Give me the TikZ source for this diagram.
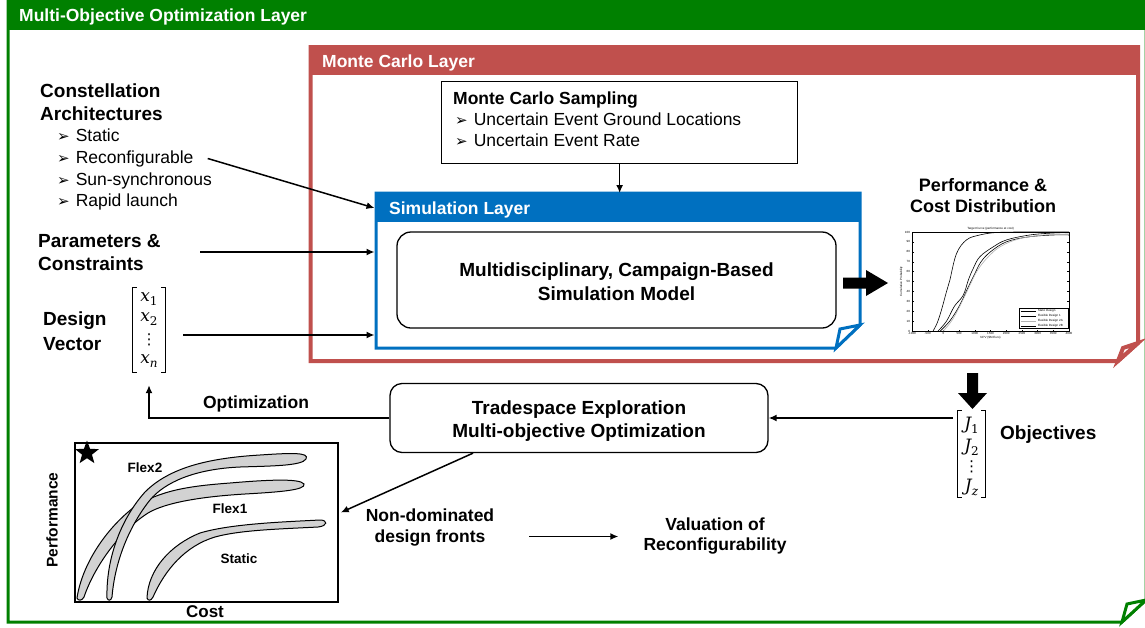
\documentclass[tikz,border=0pt]{standalone}
\usepackage{fontspec}
\setmainfont{Liberation Sans}
\newfontfamily\dejavu{DejaVu Sans}
\newfontfamily\vfont{DejaVu Serif}
\usetikzlibrary{arrows.meta,calc,shapes.geometric}
\definecolor{mgreen}{RGB}{0,128,0}
\definecolor{mred}{RGB}{192,80,77}
\definecolor{mblue}{RGB}{0,112,192}
\newcommand{\bul}{{\dejavu\fontsize{15}{15}\selectfont ➢}\hspace{6pt}}
\newcommand{\fs}[2]{\fontsize{#1}{#2}\selectfont}
\newcommand{\vsub}[2]{{\itshape #1}\raisebox{-4pt}{\fs{12}{12}#2}}
\begin{document}
\begin{tikzpicture}[x=1pt,y=-1pt,
  every node/.style={inner sep=0pt},
  hdr/.style={font=\bfseries\fs{17.5}{21}, text=white, anchor=base west},
  headt/.style={font=\bfseries\fs{19}{23}, anchor=base west},
  bodyt/.style={font=\fs{17.5}{21}, anchor=base west},
  boldt/.style={font=\bfseries\fs{17.5}{21}},
  bigt/.style={font=\bfseries\fs{19}{24}, align=center},
  arr/.style={-{Latex[length=8pt,width=7pt]}, line width=1.5pt},
  blob/.style={fill=gray!35, draw=black, line width=1pt},
  tinyf/.style={font=\fs{3}{3.5}},
  chartl/.style={font=\bfseries\fs{13.5}{16}, anchor=base},
  vent/.style={font=\vfont\fs{17}{19}},
  vdot/.style={font=\dejavu\fs{15}{15}},
  brk/.style={line width=1pt, line join=miter},
]
\useasboundingbox (0,0) rectangle (1145,627);
\fill[white] (0,0) rectangle (1145,627);

% ---------- green layer ----------
\fill[mgreen] (6.5,0) rectangle (1145,30);
\draw[mgreen, line width=3pt, line join=miter] (8,0) -- (8,622) -- (1122,622) -- (1146,600) -- (1146,0);
\draw[mgreen, line width=3pt, line join=miter, fill=white] (1146,600) -- (1127,604) -- (1122,622) -- cycle;
\node[hdr] (tgreen) at (19,21) {Multi-Objective Optimization Layer};

% ---------- red layer ----------
\draw[mred, line width=4pt, line join=miter] (310.5,47) -- (1138,47) -- (1138,343) -- (1118,361) -- (310.5,361) -- cycle;
\fill[mred] (310.5,47) rectangle (1138,75);
\draw[mred, line width=4pt, line join=miter, fill=white] (1138,343) -- (1123,348) -- (1118,361) -- cycle;
\node[hdr] (tred) at (322,67) {Monte Carlo Layer};

% ---------- blue layer ----------
\draw[mblue, line width=3pt, line join=miter] (376,193) -- (860,193) -- (860,325) -- (836,348) -- (376,348) -- cycle;
\fill[mblue] (376,193) rectangle (860,222);
\draw[mblue, line width=3pt, line join=miter, fill=white] (860,325) -- (840,329) -- (836,348) -- cycle;
\node[hdr] (tblue) at (389,214) {Simulation Layer};
\node[minimum width=484pt, minimum height=155pt, anchor=north west] (simlayer) at (376,193) {};

% ---------- Monte Carlo sampling ----------
\node[draw, line width=1.3pt, minimum width=356pt, minimum height=82pt, anchor=north west] (mcs) at (441,81) {};
\node[boldt, anchor=base west] (mcst) at (453,104) {Monte Carlo Sampling};
\node[bodyt] (mc1) at (455,125) {\bul Uncertain Event Ground Locations};
\node[bodyt] (mc2) at (455,146) {\bul Uncertain Event Rate};

% ---------- simulation model ----------
\node[draw, rounded corners=14pt, line width=1.3pt, minimum width=439pt, minimum height=96pt] (simbox) at (616.5,280) {};
\node[bigt] (simtxt) at (616.5,282) {Multidisciplinary, Campaign-Based\\Simulation Model};

% thick right arrow
\fill[black] (843,277.5) -- (866,277.5) -- (866,270) -- (888,283) -- (866,296) -- (866,288.5) -- (843,288.5) -- cycle;

% ---------- performance & cost distribution ----------
\node[font=\bfseries\fs{18}{21}, align=center] (perft) at (983,195.5) {Performance \&\\Cost Distribution};
\begin{scope}[shift={(943.4,331)}, x=0.0314pt, y=0.99pt, line width=0.35pt]
  \draw[line width=0.5pt] (-1000,0) rectangle (4000,100);
  \foreach \v [count=\i] in {0,10,...,100} {
    \draw (-1000,\v) -- ++(50,0);
    \draw (4000,\v) -- ++(-50,0);
    \node[tinyf, anchor=east] (ty\i) at (-1060,\v) {\v};
  }
  \foreach \u [count=\i] in {-1000,-500,0,500,1000,1500,2000,2500,3000,3500,4000} {
    \draw (\u,0) -- ++(0,1.5);
    \draw (\u,100) -- ++(0,-1.5);
    \node[tinyf, anchor=north] (tx\i) at (\u,-1.5) {\u};
  }
  \draw[line width=0.6pt] plot[smooth, tension=0.6] coordinates {(-330,0) (-200,8) (-64,21) (100,40) (202,51) (415,78) (734,92) (1160,97) (1690,99.5) (2500,100) (4000,100)};
  \draw[line width=0.6pt] plot[smooth, tension=0.6] coordinates {(-170,0) (100,10) (350,25) (628,36) (800,52) (947,63) (1160,75) (1585,85) (2011,92) (2755,97) (3500,99) (4000,99.5)};
  \draw[line width=0.6pt] plot[smooth, tension=0.6] coordinates {(-100,0) (200,10) (500,25) (800,45) (1000,58) (1200,70) (1500,80) (2000,90) (2700,95) (3500,97) (4000,97)};
  \draw[gray!60, line width=0.6pt] plot[smooth, tension=0.6] coordinates {(0,0) (300,12) (600,30) (900,50) (1100,62) (1400,74) (1800,85) (2400,93) (3200,97) (4000,98)};
  \draw[fill=white, line width=0.4pt] (2408,3) rectangle (3968,23);
  \foreach \yy/\lab/\col [count=\i] in {20/Static Design/black, 15/Flexible Design 1/black, 10/Flexible Design 2A/gray!60, 5/Flexible Design 2B/black} {
    \draw[\col, line width=0.5pt] (2470,\yy) -- (2950,\yy);
    \node[tinyf, anchor=west] (lg\i) at (3000,\yy) {\lab};
  }
  \node[tinyf, anchor=south] (ptitle) at (1500,101.5) {Target Curve (performance at cost)};
  \node[tinyf, rotate=90, anchor=south] (pyl) at (-1290,50) {Cumulative Probability};
  \node[tinyf, anchor=north] (pxl) at (1500,-5) {NPV (\$M Euro)};
\end{scope}

% thick down arrow
\fill[black] (967,373) -- (978,373) -- (978,393) -- (987,393) -- (972.5,409) -- (958,393) -- (967,393) -- cycle;

% objectives vector
\node[minimum width=27pt, minimum height=86pt] (jvec) at (971.5,454) {};
\draw[brk] ([xshift=4pt]jvec.north west) -- (jvec.north west) -- (jvec.south west) -- ++(4,0);
\draw[brk] ([xshift=-4pt]jvec.north east) -- (jvec.north east) -- (jvec.south east) -- ++(-4,0);
\node[vent] (j1) at (971.5,425) {\vsub{J}{1}};
\node[vent] (j2) at (971.5,447) {\vsub{J}{2}};
\node[vdot] (j3) at (971.5,467) {⋮};
\node[vent] (j4) at (971.5,487) {\vsub{J}{\itshape z}};
\node[headt] (obj) at (1000,439) {Objectives};

% tradespace
\node[draw, rounded corners=12pt, line width=1.3pt, minimum width=378pt, minimum height=69pt] (trade) at (579,418) {};
\node[bigt, font=\bfseries\fs{19}{23}] (tradetxt) at (579,421.5) {Tradespace Exploration\\Multi-objective Optimization};
\node[boldt, anchor=base] (optl) at (256,408) {Optimization};

% ---------- left inputs ----------
\node[headt] (ca1) at (40,97) {Constellation};
\node[headt] (ca2) at (40,120) {Architectures};
\node[bodyt] (b1) at (57,141) {\bul Static};
\node[bodyt] (rec) at (57,163) {\bul Reconfigurable};
\node[bodyt] (b3) at (57,185) {\bul Sun-synchronous};
\node[bodyt] (b4) at (57,206) {\bul Rapid launch};
\node[headt] (pc1) at (38,247) {Parameters \&};
\node[headt] (pc2) at (38,270) {Constraints};
\node[headt] (dv1) at (43,325) {Design};
\node[headt] (dv2) at (43,350) {Vector};
\node[minimum width=32pt, minimum height=84pt] (xvec) at (149,330) {};
\draw[brk] ([xshift=4pt]xvec.north west) -- (xvec.north west) -- (xvec.south west) -- ++(4,0);
\draw[brk] ([xshift=-4pt]xvec.north east) -- (xvec.north east) -- (xvec.south east) -- ++(-4,0);
\node[vent] (x1) at (149,299) {\vsub{x}{1}};
\node[vent] (x2) at (149,319) {\vsub{x}{2}};
\node[vdot] (x3) at (149,340) {⋮};
\node[vent] (x4) at (149,361) {\vsub{x}{\itshape n}};

% ---------- connectors ----------
\coordinate (sl1) at (374.5,208);
\coordinate (sl2) at (374.5,252);
\coordinate (sl3) at (374.5,335);
\coordinate (pcs) at (200,252);
\coordinate (dvs) at (183,335);
\draw[arr] ([xshift=14pt]rec.east) -- (sl1);
\draw[arr] (pcs) -- (sl2);
\draw[arr] (dvs) -- (sl3);
\draw[arr] (mcs.south) -- (mcs.south |- simlayer.north);
\draw[arr] ([xshift=-5pt]jvec.west |- trade.east) -- (trade.east);
\draw[arr] (trade.west) -| ([yshift=-13pt]xvec.south);

% ---------- chart ----------
\draw[blob] (77,598) .. controls (82,565) and (105,530) .. (133,508) .. controls (160,490) and (190,486) .. (230,483) .. controls (265,480) and (300,478) .. (304,484) .. controls (306,490) and (280,492) .. (245,494) .. controls (195,497) and (160,504) .. (145,515) .. controls (120,532) and (95,565) .. (84,597) .. controls (82,601) and (78,601) .. (77,598) -- cycle;
\draw[blob] (107,598) .. controls (106,560) and (120,520) .. (145,492) .. controls (170,467) and (210,458) .. (260,455) .. controls (290,453) and (310,452) .. (306,459) .. controls (302,466) and (270,466) .. (240,467) .. controls (195,469) and (165,482) .. (150,500) .. controls (130,525) and (115,560) .. (112,597) .. controls (111,601) and (108,601) .. (107,598) -- cycle;
\draw[blob] (147,598) .. controls (148,570) and (170,545) .. (200,533) .. controls (230,524) and (280,522) .. (320,520) .. controls (328,520) and (328,526) .. (318,527) .. controls (280,529) and (240,530) .. (215,537) .. controls (185,546) and (165,570) .. (153,597) .. controls (151,601) and (148,601) .. (147,598) -- cycle;
\node[draw, line width=1.5pt, minimum width=263pt, minimum height=159pt] (chart) at (206.5,522.5) {};
\node[star, star points=5, star point ratio=2.4, fill=black, minimum size=25pt] (star) at (87,453) {};
\node[chartl] (fl2) at (145,472) {Flex2};
\node[chartl] (fl1) at (230,513) {Flex1};
\node[chartl] (fst) at (239,563) {Static};
\node[font=\bfseries\fs{15.5}{18}, rotate=90] (perfl) at (52,520) {Performance};
\node[font=\bfseries\fs{17}{20}, anchor=base] (costl) at (205,617) {Cost};

\draw[arr] ([xshift=-106pt]trade.south) -- ($(chart.east)+(2,-10)$);

% ---------- fronts & valuation ----------
\node[boldt, align=center] (nd) at (430,527.5) {Non-dominated\\design fronts};
\node[boldt, align=center, font=\bfseries\fs{17.5}{20}] (val) at (715,536.5) {Valuation of\\Reconfigurability};
\draw[arr] ($(nd.east)+(35,9)$) -- ($(val.west)+(-25,0)$);
\end{tikzpicture}
\end{document}
